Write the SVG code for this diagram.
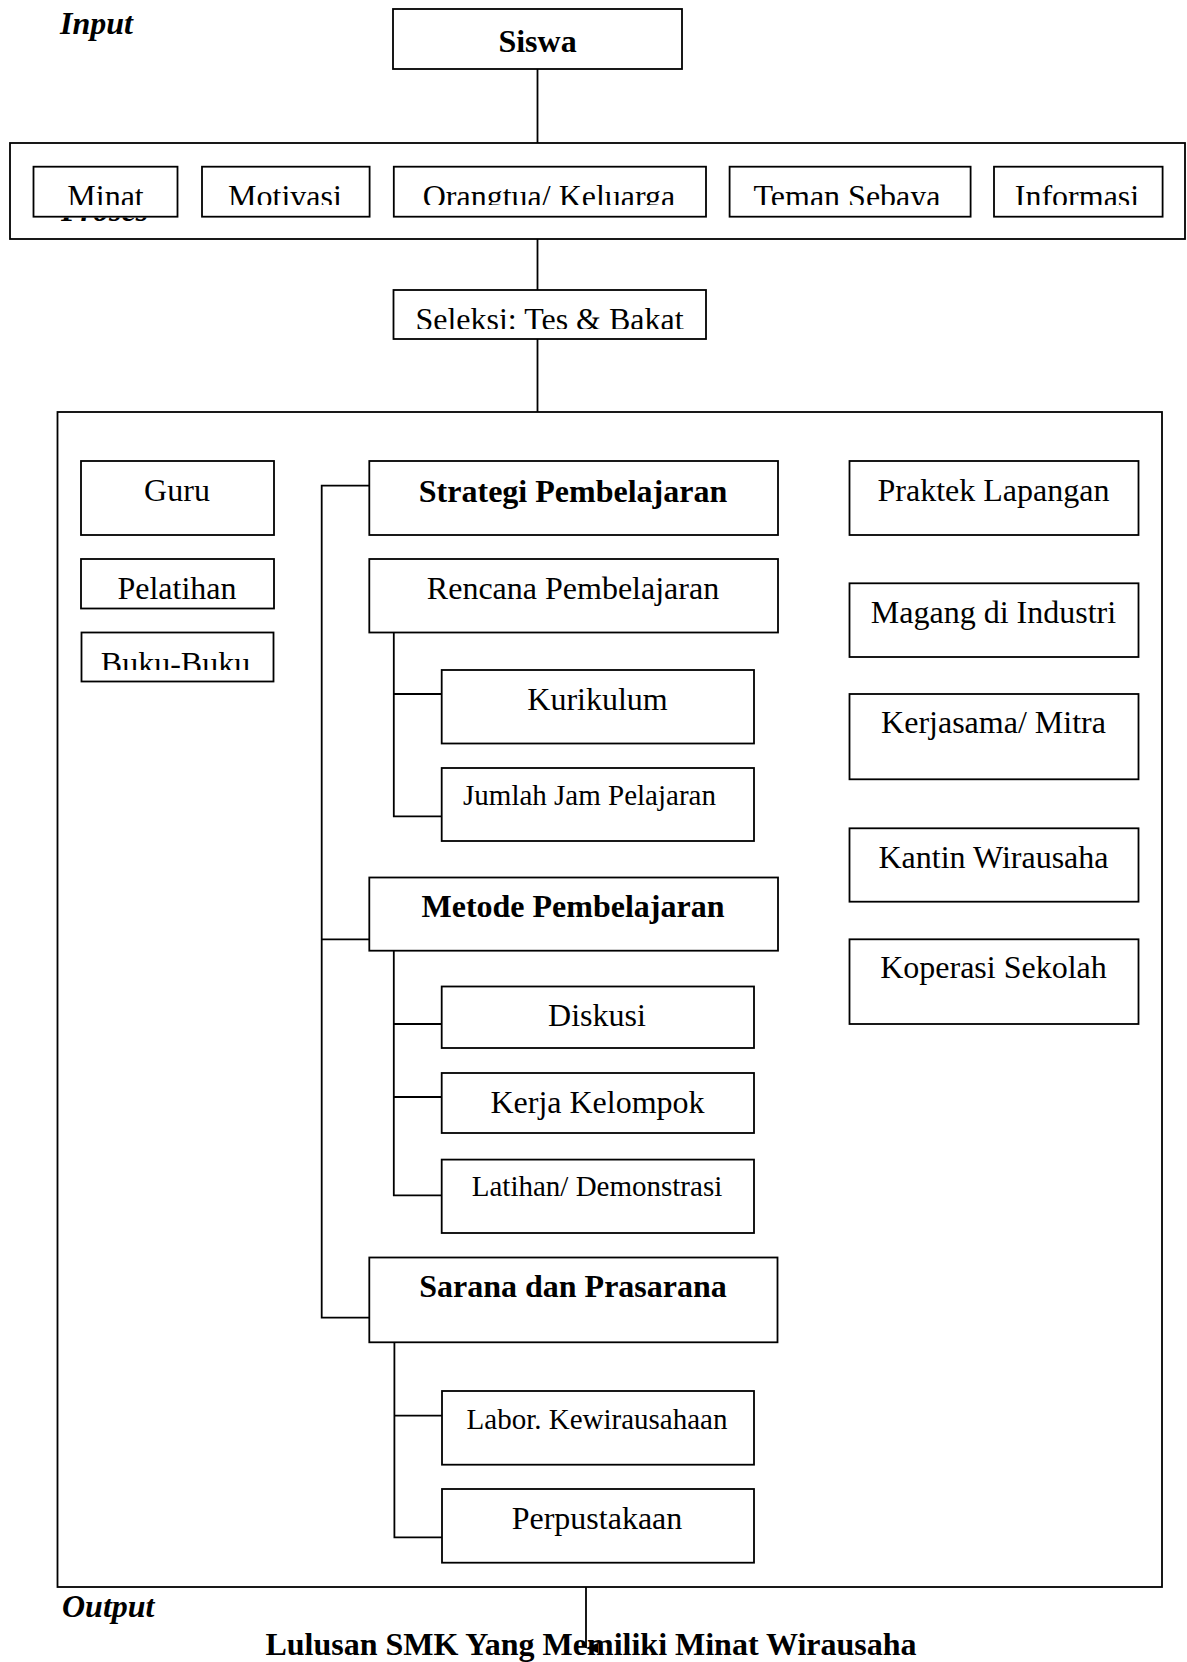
<svg xmlns="http://www.w3.org/2000/svg" width="1187" height="1662" viewBox="0 0 1187 1662">
<style>
  rect.b { fill: #fff; stroke: #000; stroke-width: 1.8; }
  text { font-family: "Liberation Serif", "Times New Roman", serif; font-size: 32px; fill: #000; }
  text.c { text-anchor: middle; }
  text.bold { font-weight: bold; }
  text.bi { font-weight: bold; font-style: italic; }
  text.s { font-size: 29px; }
  #connectors line, #connectors path { stroke: #000; stroke-width: 1.8; fill: none; }
</style>
<defs>
  <marker id="arr" viewBox="0 0 10 12" refX="5" refY="12" markerWidth="10" markerHeight="12" markerUnits="userSpaceOnUse" orient="auto-start-reverse">
    <path d="M0,0 L10,0 L5,12 Z" fill="#000"/>
  </marker>
  <clipPath id="clipRow" clipPathUnits="userSpaceOnUse"><rect x="0" y="0" width="1187" height="205"/></clipPath>
  <clipPath id="clipProses" clipPathUnits="userSpaceOnUse"><rect x="0" y="217.6" width="1187" height="20"/></clipPath>
  <clipPath id="clipSel" clipPathUnits="userSpaceOnUse"><rect x="0" y="0" width="1187" height="329"/></clipPath>
  <clipPath id="clipBuku" clipPathUnits="userSpaceOnUse"><rect x="0" y="0" width="1187" height="670"/></clipPath>
</defs>
<rect width="1187" height="1662" fill="#fff"/>

<g id="labels">
  <text class="bi" x="60" y="34">Input</text>
</g>

<g id="siswa">
  <rect class="b" x="393" y="9" width="289" height="60"/>
  <text class="c bold" x="537.5" y="52">Siswa</text>
</g>

<g id="faktor">
  <rect class="b" x="10" y="143" width="1175" height="96"/>
  <text class="bi" x="61" y="220.5" clip-path="url(#clipProses)">Proses</text>
  <g id="minat">
    <rect class="b" x="33.5" y="166.7" width="144" height="50"/>
    <text class="c" x="105.5" y="207" clip-path="url(#clipRow)">Minat</text>
  </g>
  <g id="motivasi">
    <rect class="b" x="202" y="166.7" width="167.6" height="50"/>
    <text class="c" x="285" y="207" clip-path="url(#clipRow)">Motivasi</text>
  </g>
  <g id="orangtua">
    <rect class="b" x="393.8" y="166.7" width="312.2" height="50"/>
    <text class="c" x="549" y="207" clip-path="url(#clipRow)">Orangtua/ Keluarga</text>
  </g>
  <g id="teman">
    <rect class="b" x="729.6" y="166.7" width="241" height="50"/>
    <text class="c" x="847" y="207" clip-path="url(#clipRow)">Teman Sebaya</text>
  </g>
  <g id="informasi">
    <rect class="b" x="994" y="166.7" width="168.6" height="50"/>
    <text class="c" x="1077" y="207" clip-path="url(#clipRow)">Informasi</text>
  </g>
</g>

<g id="seleksi">
  <rect class="b" x="393.5" y="290" width="312.5" height="49"/>
  <text class="c" x="549.5" y="330" clip-path="url(#clipSel)">Seleksi: Tes &amp; Bakat</text>
</g>

<g id="proses">
  <rect class="b" x="57.5" y="412" width="1104.5" height="1175"/>
</g>

<g id="guru">
  <rect class="b" x="81" y="461" width="193" height="74"/>
  <text class="c" x="177" y="501">Guru</text>
</g>
<g id="pelatihan">
  <rect class="b" x="81" y="559" width="193" height="49.5"/>
  <text class="c" x="177" y="598.5">Pelatihan</text>
</g>
<g id="buku">
  <rect class="b" x="81.5" y="632.5" width="192" height="49"/>
  <text class="c" x="175.5" y="674" clip-path="url(#clipBuku)">Buku-Buku</text>
</g>

<g id="strategi">
  <rect class="b" x="369.3" y="461" width="408.7" height="74"/>
  <text class="c bold" x="573" y="502">Strategi Pembelajaran</text>
</g>
<g id="rencana">
  <rect class="b" x="369.3" y="559" width="408.7" height="73.5"/>
  <text class="c" x="573" y="598.5">Rencana Pembelajaran</text>
</g>
<g id="kurikulum">
  <rect class="b" x="441.7" y="670" width="312.3" height="73.5"/>
  <text class="c" x="597.5" y="710">Kurikulum</text>
</g>
<g id="jumlah">
  <rect class="b" x="441.7" y="768" width="312.3" height="73"/>
  <text class="c s" x="589.5" y="805">Jumlah Jam Pelajaran</text>
</g>
<g id="metode">
  <rect class="b" x="369.3" y="877.5" width="408.7" height="73.2"/>
  <text class="c bold" x="573" y="917">Metode Pembelajaran</text>
</g>
<g id="diskusi">
  <rect class="b" x="441.7" y="986.5" width="312.3" height="61.5"/>
  <text class="c" x="597" y="1025.5">Diskusi</text>
</g>
<g id="kerja">
  <rect class="b" x="441.7" y="1073" width="312.3" height="60"/>
  <text class="c" x="597.5" y="1112.5">Kerja Kelompok</text>
</g>
<g id="latihan">
  <rect class="b" x="441.7" y="1159.6" width="312.3" height="73.4"/>
  <text class="c s" x="597" y="1196">Latihan/ Demonstrasi</text>
</g>
<g id="sarana">
  <rect class="b" x="369.3" y="1257.5" width="408.2" height="84.8"/>
  <text class="c bold" x="573" y="1297">Sarana dan Prasarana</text>
</g>
<g id="labor">
  <rect class="b" x="442" y="1391" width="312" height="73.7"/>
  <text class="c s" x="597" y="1428.5">Labor. Kewirausahaan</text>
</g>
<g id="perpustakaan">
  <rect class="b" x="442" y="1489" width="312" height="73.7"/>
  <text class="c" x="597" y="1528.5">Perpustakaan</text>
</g>

<g id="praktek">
  <rect class="b" x="849.5" y="461" width="289" height="74"/>
  <text class="c" x="993.5" y="500.7">Praktek Lapangan</text>
</g>
<g id="magang">
  <rect class="b" x="849.5" y="583.3" width="289" height="73.7"/>
  <text class="c" x="993.5" y="623.3">Magang di Industri</text>
</g>
<g id="kerjasama">
  <rect class="b" x="849.5" y="694" width="289" height="85.3"/>
  <text class="c" x="993.5" y="733.3">Kerjasama/ Mitra</text>
</g>
<g id="kantin">
  <rect class="b" x="849.5" y="828.3" width="289" height="73.4"/>
  <text class="c" x="993.5" y="867.7">Kantin Wirausaha</text>
</g>
<g id="koperasi">
  <rect class="b" x="849.5" y="939.3" width="289" height="84.7"/>
  <text class="c" x="993.5" y="978.3">Koperasi Sekolah</text>
</g>

<g id="output">
  <text class="bi" x="62" y="1617">Output</text>
  <text class="c bold" x="591" y="1655">Lulusan SMK Yang Memiliki Minat Wirausaha</text>
</g>

<g id="connectors">
  <line x1="537.5" y1="69" x2="537.5" y2="143"/>
  <line x1="537.5" y1="239" x2="537.5" y2="290"/>
  <line x1="537.5" y1="339" x2="537.5" y2="412"/>
  <path d="M369.3,485.7 H321.7 V1317.7 H369.3"/>
  <line x1="321.7" y1="939.3" x2="369.3" y2="939.3"/>
  <path d="M393.8,632.5 V816.4 H441.7"/>
  <line x1="393.8" y1="694" x2="441.7" y2="694"/>
  <path d="M393.8,950.7 V1195.4 H441.7"/>
  <line x1="393.8" y1="1024" x2="441.7" y2="1024"/>
  <line x1="393.8" y1="1097" x2="441.7" y2="1097"/>
  <path d="M394.4,1342.3 V1537.3 H442"/>
  <line x1="394.4" y1="1415.7" x2="442" y2="1415.7"/>
  <line x1="586" y1="1587" x2="586" y2="1648" marker-end="url(#arr)"/>
</g>
</svg>
